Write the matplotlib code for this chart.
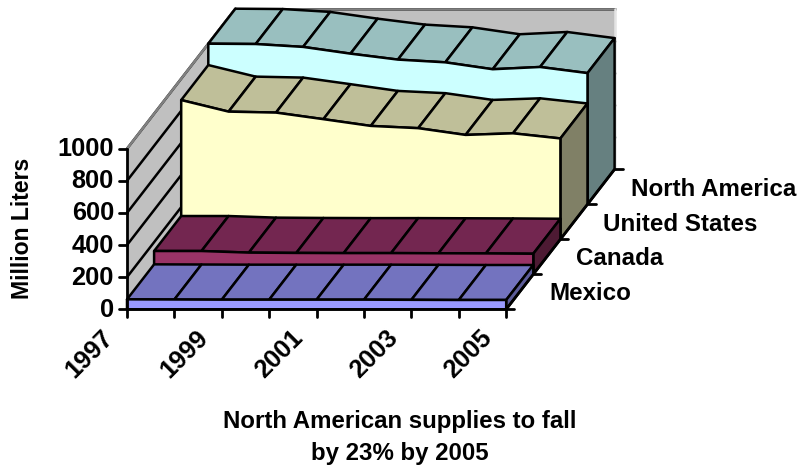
import matplotlib
matplotlib.use("Agg")
import matplotlib.pyplot as plt
from matplotlib.patches import Polygon

plt.rcParams['font.family'] = ['Liberation Sans', 'DejaVu Sans']

years = list(range(1997, 2006))
year_labels = [1997, 1999, 2001, 2003, 2005]
series_names = ["Mexico", "Canada", "United States", "North America"]
mexico = [62, 61, 60, 60, 60, 60, 59, 58, 58]
canada = [145, 145, 135, 133, 132, 132, 131, 130, 128]
united_states = [867, 795, 789, 748, 706, 692, 650, 660, 628]
north_america = [1000, 998, 980, 938, 901, 884, 841, 855, 817]
value_ticks = [0, 200, 400, 600, 800, 1000]
series_values = [mexico, canada, united_states, north_america]
front_colors = ["#9999FF", "#993366", "#FFFFCC", "#CCFFFF"]
top_colors = ["#7373BF", "#732650", "#BFBF99", "#99BFBF"]
side_colors = ["#5C5C99", "#4D1A33", "#808066", "#668080"]

# Oblique projection of (year index, depth, value) to pixel coordinates
X0, Y0 = 127.0, 309.3
DX = 47.4
DEPTH_X, DEPTH_Y = 27.1, -35.0
VY = -0.1606


def proj(i, d, v):
    return (X0 + DX * i + DEPTH_X * d, Y0 + DEPTH_Y * d + VY * v)


fig = plt.figure(figsize=(7.99, 4.69), dpi=100)
ax = fig.add_axes([0, 0, 1, 1])
ax.set_xlim(0, 799)
ax.set_ylim(469, 0)
ax.axis("off")
LW = 1.8
AXW = 2.0
n = len(years) - 1
D = len(series_names)
GRAY = "#C0C0C0"


def poly(pts, fc, ec="black", lw=LW, z=1):
    ax.add_patch(Polygon(pts, closed=True, facecolor=fc, edgecolor=ec,
                         linewidth=lw, joinstyle="round", zorder=z))


def line(a, b, color="black", lw=LW, z=1):
    ax.plot([a[0], b[0]], [a[1], b[1]], color=color, lw=lw, zorder=z,
            solid_capstyle="round")


# walls
vmax = value_ticks[-1]
poly([proj(0, D, 0), proj(n, D, 0), proj(n, D, vmax), proj(0, D, vmax)], GRAY, ec="none", lw=0)
poly([proj(0, 0, 0), proj(0, D, 0), proj(0, D, vmax), proj(0, 0, vmax)], GRAY, ec="none", lw=0)
for v in value_ticks:
    line(proj(0, 0, v), proj(0, D, v))
    line(proj(0, D, v), proj(n, D, v))
line(proj(0, 0, vmax), proj(0, D, vmax), color="#808080")
line(proj(0, D, vmax), proj(n, D, vmax), color="#808080")
line(proj(n, D, vmax), proj(n, D, 0), color="#E4E4E4")
line(proj(0, D, 0), proj(0, D, vmax), color="#808080")

# series, back to front
for s in range(D - 1, -1, -1):
    vals = series_values[s]
    d0, d1 = s, s + 1
    # top surface
    for i in range(n):
        poly([proj(i, d0, vals[i]), proj(i + 1, d0, vals[i + 1]),
              proj(i + 1, d1, vals[i + 1]), proj(i, d1, vals[i])], top_colors[s])
    # right side
    poly([proj(n, d0, 0), proj(n, d1, 0), proj(n, d1, vals[n]), proj(n, d0, vals[n])],
         side_colors[s])
    # front
    pts = [proj(0, d0, 0)] + [proj(i, d0, vals[i]) for i in range(n + 1)] + [proj(n, d0, 0)]
    poly(pts, front_colors[s])

# axes and ticks
line(proj(0, 0, 0), proj(0, 0, vmax), lw=AXW, z=3)
line(proj(0, 0, 0), proj(n, 0, 0), lw=AXW, z=3)
line(proj(n, 0, 0), proj(n, D, 0), lw=AXW, z=3)
for v in value_ticks:
    x, y = proj(0, 0, v)
    line((x - 8, y), (x, y), lw=AXW, z=3)
    ax.text(x - 13, y + 0.5, str(v), ha="right", va="center", fontsize=18.3, fontweight="bold")
for i, yr in enumerate(years):
    x, y = proj(i, 0, 0)
    line((x, y), (x, y + 8), lw=AXW, z=3)
    if yr in year_labels:
        ax.text(x - 26, y + 16, str(yr), ha="right", va="top", rotation=45,
                rotation_mode="anchor", fontsize=18.3, fontweight="bold")
for d in range(D + 1):
    x, y = proj(n, d, 0)
    line((x, y), (x + 8, y), lw=AXW, z=3)
for s, name in enumerate(series_names):
    x, y = proj(n, s + 0.5, 0)
    ax.text(x + 29.5, y + 1.5 + 0.5 * s, name, ha="left", va="center", fontsize=17.4, fontweight="bold")

ax.text(23, 228, "Million Liters", rotation=90, ha="center", va="center",
        fontsize=16.6, fontweight="bold")
ax.text(400, 437.5, "North American supplies to fall\nby 23% by 2005", ha="center", va="center",
        fontsize=17.3, fontweight="bold", linespacing=1.46)

fig.savefig("out.png", dpi=100)
